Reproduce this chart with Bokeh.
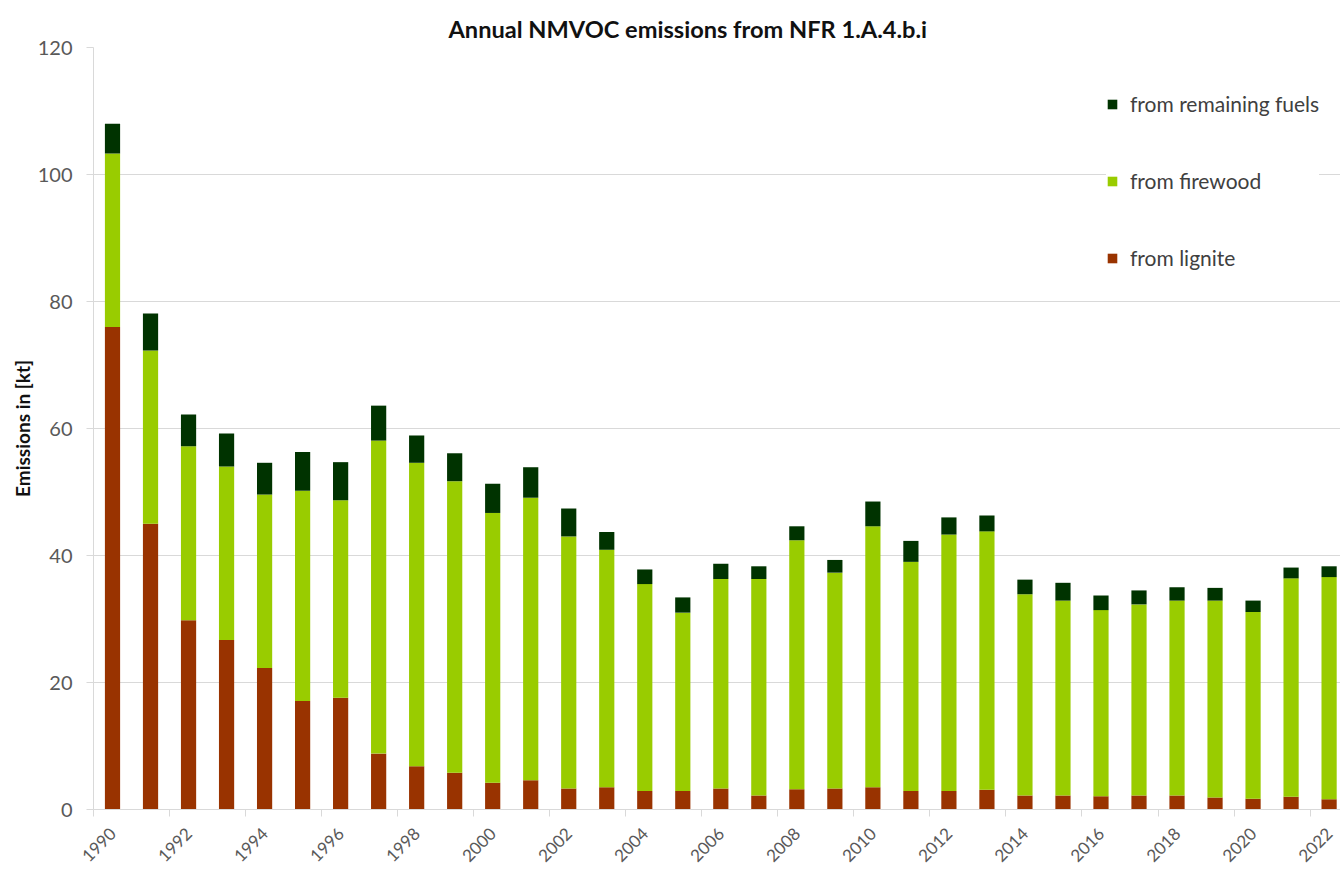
import math
from bokeh.plotting import figure
from bokeh.models import FixedTicker, Legend, LegendItem, ColumnDataSource, Range1d
from bokeh.embed import file_html
from bokeh.resources import INLINE

years = [1990, 1991, 1992, 1993, 1994, 1995, 1996, 1997, 1998, 1999,
         2000, 2001, 2002, 2003, 2004, 2005, 2006, 2007, 2008, 2009,
         2010, 2011, 2012, 2013, 2014, 2015, 2016, 2017, 2018, 2019,
         2020, 2021, 2022]
lignite = [76.0, 45.0, 29.8, 26.7, 22.3, 17.1, 17.6, 8.8, 6.8, 5.8,
           4.2, 4.6, 3.3, 3.5, 2.9, 2.9, 3.3, 2.2, 3.2, 3.3,
           3.5, 2.9, 2.9, 3.1, 2.2, 2.2, 2.1, 2.2, 2.2, 1.9,
           1.7, 2.0, 1.6]
firewood = [27.3, 27.3, 27.4, 27.3, 27.3, 33.1, 31.1, 49.3, 47.8, 45.9,
            42.5, 44.5, 39.7, 37.4, 32.6, 28.1, 33.0, 34.1, 39.2, 34.0,
            41.1, 36.1, 40.4, 40.7, 31.7, 30.7, 29.3, 30.1, 30.7, 31.0,
            29.4, 34.4, 35.0]
remaining = [4.7, 5.8, 5.0, 5.2, 5.0, 6.1, 6.0, 5.5, 4.3, 4.4,
             4.6, 4.8, 4.4, 2.8, 2.3, 2.4, 2.4, 2.0, 2.2, 2.0,
             3.9, 3.3, 2.7, 2.5, 2.3, 2.8, 2.3, 2.2, 2.1, 2.0,
             1.8, 1.7, 1.7]
label_years = [1990, 1992, 1994, 1996, 1998, 2000, 2002, 2004, 2006, 2008,
               2010, 2012, 2014, 2016, 2018, 2020, 2022]
y_ticks = [0, 20, 40, 60, 80, 100, 120]
series = ["lignite", "firewood", "remaining"]
colors = ["#993300", "#99CC00", "#003300"]
labels = {"lignite": "from lignite", "firewood": "from firewood",
          "remaining": "from remaining fuels"}

FONT = "Lato"
GRID = "#d9d9d9"

src = ColumnDataSource(dict(year=years, lignite=lignite, firewood=firewood,
                            remaining=remaining))

p = figure(width=1340, height=870, output_backend="svg", toolbar_location=None,
           x_range=Range1d(1989.5, 2022.3), y_range=Range1d(0, 120),
           min_border_left=93, min_border_right=0, min_border_top=47,
           min_border_bottom=61)

rs = p.vbar_stack(series, x="year", width=0.4, color=colors, source=src,
                  line_color=None)

p.title.text = "Annual NMVOC emissions from NFR 1.A.4.b.i"
p.title.align = "left"
p.title.offset = 355
p.title.text_font = FONT
p.title.text_font_size = "23.6px"
p.title.text_font_style = "bold"
p.title.text_color = "#111111"

p.outline_line_color = None
p.xgrid.visible = False
p.ygrid.grid_line_color = GRID
p.ygrid.grid_line_width = 1

p.xaxis.ticker = FixedTicker(ticks=label_years,
                             minor_ticks=[y - 0.5 for y in label_years])
p.xaxis.major_tick_out = 0
p.xaxis.major_tick_in = 0
p.xaxis.minor_tick_out = 7
p.xaxis.minor_tick_in = 0
p.xaxis.minor_tick_line_color = GRID
p.xaxis.axis_line_color = GRID
p.xaxis.major_label_orientation = math.pi / 4
p.xaxis.major_label_standoff = 14
p.xaxis.major_label_text_font = FONT
p.xaxis.major_label_text_font_size = "17px"
p.xaxis.major_label_text_color = "#595959"

p.yaxis.ticker = FixedTicker(ticks=y_ticks)
p.yaxis.minor_tick_line_color = None
p.yaxis.major_tick_out = 7
p.yaxis.major_tick_in = 0
p.yaxis.major_tick_line_color = GRID
p.yaxis.axis_line_color = GRID
p.yaxis.major_label_standoff = 14
p.yaxis.major_label_text_font = FONT
p.yaxis.major_label_text_font_size = "20px"
p.yaxis.major_label_text_color = "#595959"
p.yaxis.axis_label = "Emissions in [kt]"
p.yaxis.axis_label_text_font = FONT
p.yaxis.axis_label_text_font_size = "19px"
p.yaxis.axis_label_text_font_style = "bold"
p.yaxis.axis_label_text_color = "#111111"
p.yaxis.axis_label_standoff = 1

items = [LegendItem(label=labels[s], renderers=[r])
         for s, r in zip(series, rs)][::-1]
legend = Legend(items=items, location=(1013, 539), margin=0, padding=0,
                spacing=52, glyph_width=12, glyph_height=12,
                label_standoff=12, label_text_font=FONT,
                label_text_font_size="21px", label_text_color="#404040",
                background_fill_color="white", background_fill_alpha=1.0,
                border_line_color=None)
p.add_layout(legend)

open("out.html", "w").write(file_html(p, INLINE))
